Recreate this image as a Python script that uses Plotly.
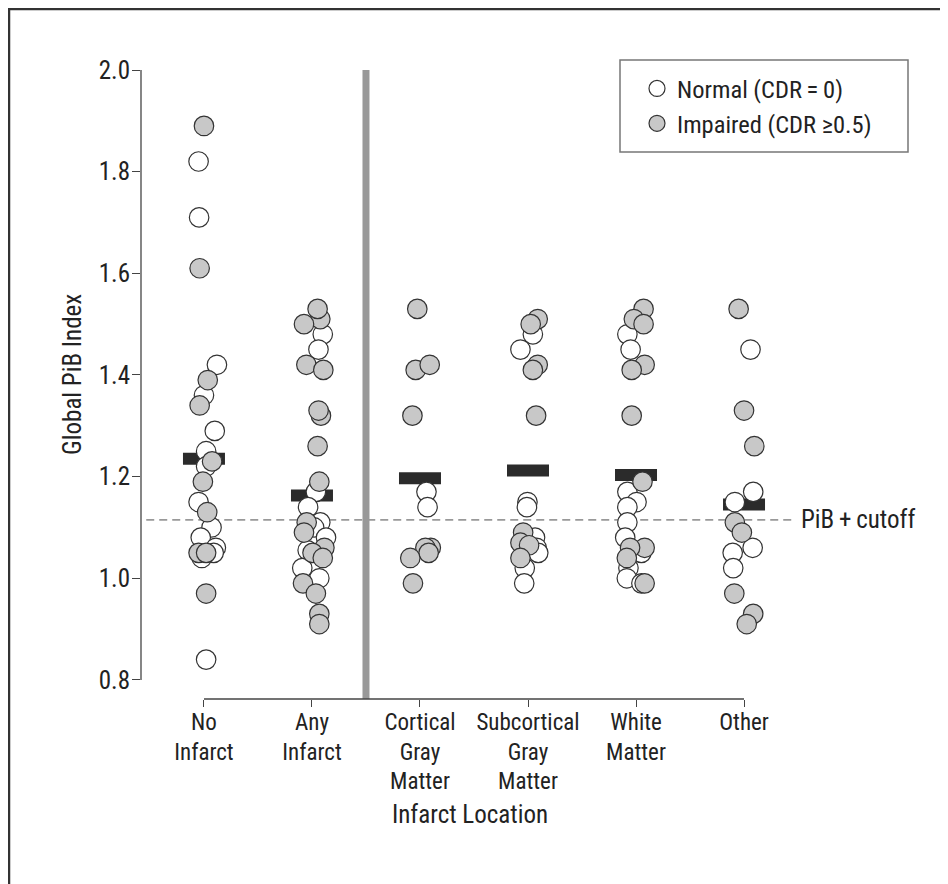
import plotly.graph_objects as go

# ---------------- data ----------------
categories = ["No Infarct", "Any Infarct", "Cortical Gray Matter",
              "Subcortical Gray Matter", "White Matter", "Other"]
tick_labels = ["No<br>Infarct", "Any<br>Infarct", "Cortical<br>Gray<br>Matter",
               "Subcortical<br>Gray<br>Matter", "White<br>Matter", "Other"]
y_ticks = [0.8, 1.0, 1.2, 1.4, 1.6, 1.8, 2.0]

# Normal (CDR = 0) global PiB index, with horizontal jitter (category units)
normal_no_infarct = [1.82, 1.71, 1.42, 1.36, 1.29, 1.25, 1.22, 1.15, 1.10, 1.08, 1.06, 1.05, 1.04, 0.84]
normal_no_infarct_dx = [-0.05, -0.045, 0.12, 0.0, 0.10, 0.02, 0.02, -0.05, 0.07, -0.03, 0.11, 0.09, -0.02, 0.02]
normal_any_infarct = [1.48, 1.45, 1.17, 1.14, 1.11, 1.10, 1.08, 1.055, 1.02, 1.00]
normal_any_infarct_dx = [0.10, 0.06, 0.036, -0.036, 0.077, 0.02, 0.13, -0.04, -0.09, 0.068]
normal_cortical = [1.17, 1.14]
normal_cortical_dx = [0.06, 0.07]
normal_subcortical = [1.48, 1.45, 1.15, 1.14, 1.08, 1.06, 1.05, 1.02, 0.99]
normal_subcortical_dx = [0.045, -0.07, -0.005, -0.01, 0.065, 0.08, 0.095, -0.03, -0.035]
normal_white = [1.48, 1.45, 1.17, 1.15, 1.14, 1.11, 1.08, 1.05, 1.02, 1.00, 0.99]
normal_white_dx = [-0.08, -0.05, -0.08, 0.005, -0.08, -0.08, -0.10, 0.05, -0.07, -0.085, 0.05]
normal_other = [1.45, 1.17, 1.15, 1.06, 1.05, 1.02]
normal_other_dx = [0.06, 0.085, -0.085, 0.08, -0.105, -0.10]

# Impaired (CDR >= 0.5)
impaired_no_infarct = [1.89, 1.61, 1.39, 1.34, 1.23, 1.19, 1.13, 1.05, 1.05, 0.97]
impaired_no_infarct_dx = [0.0, -0.04, 0.035, -0.04, 0.075, -0.01, 0.03, -0.05, 0.02, 0.02]
impaired_any_infarct = [1.51, 1.50, 1.53, 1.42, 1.41, 1.32, 1.33, 1.26, 1.19, 1.11, 1.09, 1.06, 1.05, 1.04, 0.99, 0.97, 0.93, 0.91]
impaired_any_infarct_dx = [0.077, -0.074, 0.052, -0.052, 0.105, 0.083, 0.061, 0.052, 0.068, -0.049, -0.074, 0.115, 0.005, 0.10, -0.083, 0.036, 0.068, 0.068]
impaired_cortical = [1.53, 1.41, 1.42, 1.32, 1.06, 1.06, 1.05, 1.04, 0.99]
impaired_cortical_dx = [-0.025, -0.04, 0.09, -0.07, 0.10, 0.05, 0.08, -0.09, -0.065]
impaired_subcortical = [1.51, 1.50, 1.42, 1.41, 1.32, 1.09, 1.07, 1.065, 1.04]
impaired_subcortical_dx = [0.09, 0.025, 0.09, 0.045, 0.075, -0.045, -0.07, 0.01, -0.07]
impaired_white = [1.53, 1.51, 1.50, 1.42, 1.41, 1.32, 1.19, 1.06, 1.06, 1.04, 0.99]
impaired_white_dx = [0.07, -0.02, 0.07, 0.08, -0.04, -0.04, 0.06, 0.08, -0.055, -0.085, 0.08]
impaired_other = [1.53, 1.33, 1.26, 1.11, 1.09, 0.97, 0.93, 0.91]
impaired_other_dx = [-0.05, 0.0, 0.095, -0.085, -0.02, -0.09, 0.085, 0.025]

group_means = [1.235, 1.163, 1.197, 1.212, 1.203, 1.145]
pib_cutoff = 1.115

# ---------------- build ----------------
normal_groups = [(normal_no_infarct, normal_no_infarct_dx), (normal_any_infarct, normal_any_infarct_dx),
                 (normal_cortical, normal_cortical_dx), (normal_subcortical, normal_subcortical_dx),
                 (normal_white, normal_white_dx), (normal_other, normal_other_dx)]
impaired_groups = [(impaired_no_infarct, impaired_no_infarct_dx), (impaired_any_infarct, impaired_any_infarct_dx),
                   (impaired_cortical, impaired_cortical_dx), (impaired_subcortical, impaired_subcortical_dx),
                   (impaired_white, impaired_white_dx), (impaired_other, impaired_other_dx)]


def flatten(groups):
    xs, ys = [], []
    for i, (vals, dxs) in enumerate(groups):
        for v, d in zip(vals, dxs):
            xs.append(i + d)
            ys.append(v)
    return xs, ys


FONT = "Liberation Sans Narrow, Arial Narrow, Roboto Condensed, Roboto, sans-serif"
TXT = "#222222"
FS = 25

# page body has an 8px offset; plot area in figure pixels
L, T, PW, PH = 133, 62, 654, 629
W, H = 948, 884


def px(xp):   # reference-image x pixel -> paper x
    return (xp - 8 - L) / PW


def py(yp):   # reference-image y pixel -> paper y
    return (T + PH - (yp - 8)) / PH


fig = go.Figure()

# group means (black bars)
fig.add_trace(go.Scatter(
    x=list(range(len(categories))), y=group_means, mode="markers",
    marker=dict(symbol="line-ew", size=30, line=dict(width=12, color="#2b2b2b")),
    showlegend=False, hoverinfo="skip"))

nx, ny = flatten(normal_groups)
fig.add_trace(go.Scatter(
    x=nx, y=ny, mode="markers", name="Normal (CDR\u2009=\u20090)",
    marker=dict(size=19.5, color="white", line=dict(width=1.2, color="#333333"))))

ix, iy = flatten(impaired_groups)
fig.add_trace(go.Scatter(
    x=ix, y=iy, mode="markers", name="Impaired (CDR \u22650.5)",
    marker=dict(size=19.5, color="#c8c8c8", line=dict(width=1.2, color="#333333"))))

shapes = [
    # y axis line (0.8 to 2.0)
    dict(type="line", xref="paper", yref="y", x0=0, x1=0, y0=y_ticks[0], y1=y_ticks[-1],
         line=dict(color="#444444", width=1.3)),
    # x axis line (first to last category)
    dict(type="line", xref="x", yref="paper", x0=0, x1=len(categories) - 1, y0=0, y1=0,
         line=dict(color="#444444", width=1.3)),
    # separator between summary and location groups
    dict(type="line", xref="x", yref="paper", x0=1.5, x1=1.5, y0=0, y1=1,
         line=dict(color="#999999", width=7), layer="below"),
    # PiB+ cutoff
    dict(type="line", xref="paper", yref="y", x0=0.008, x1=1, y0=pib_cutoff, y1=pib_cutoff,
         line=dict(color="#999999", width=1.8, dash="8px,5px"), layer="below"),
    # legend box
    dict(type="rect", xref="paper", yref="paper", x0=px(620), x1=px(908),
         y0=py(152), y1=py(60), line=dict(color="#777777", width=1.5)),
    # outer frame
    dict(type="rect", xref="paper", yref="paper", x0=px(9), x1=1.6,
         y0=-0.6, y1=py(9), line=dict(color="#333333", width=2.5)),
]

fig.update_layout(
    width=W, height=H,
    margin=dict(l=L, r=W - L - PW, t=T, b=H - T - PH),
    paper_bgcolor="white", plot_bgcolor="white",
    font=dict(family=FONT, size=FS, color=TXT),
    shapes=shapes,
    showlegend=True,
    legend=dict(x=px(637), y=py(66), xanchor="left", yanchor="top",
                bgcolor="rgba(0,0,0,0)", borderwidth=0, font=dict(size=24.5, color=TXT),
                itemsizing="trace"),
    annotations=[
        dict(text="PiB\u2009+\u2009cutoff", xref="paper", yref="y", x=px(799), y=pib_cutoff,
             xanchor="left", yanchor="middle", showarrow=False, font=dict(size=FS, color=TXT)),
        dict(text="Infarct Location", xref="paper", yref="paper", x=px(470), y=py(814),
             xanchor="center", yanchor="middle", showarrow=False, font=dict(size=FS, color=TXT)),
        dict(text="Global PiB Index", xref="paper", yref="paper", x=px(72), y=py(375),
             xanchor="center", yanchor="middle", textangle=-90, showarrow=False,
             font=dict(size=FS, color=TXT)),
    ],
)

fig.update_xaxes(range=[-0.583, 5.472], tickmode="array",
                 tickvals=list(range(len(categories))), ticktext=tick_labels,
                 showgrid=False, zeroline=False, showline=False,
                 ticks="outside", ticklen=7, tickwidth=1.3, tickcolor="#444444",
                 ticklabelstandoff=-5,
                 tickfont=dict(size=23, color=TXT))
fig.update_yaxes(range=[0.7625, 2.0], tickmode="array", tickvals=y_ticks,
                 ticktext=[f"{v:.1f}" for v in y_ticks],
                 showgrid=False, zeroline=False, showline=False,
                 ticks="outside", ticklen=8, tickwidth=1.3, tickcolor="#444444",
                 ticklabelstandoff=-3,
                 tickfont=dict(size=FS, color=TXT))

fig.write_html("out.html")
